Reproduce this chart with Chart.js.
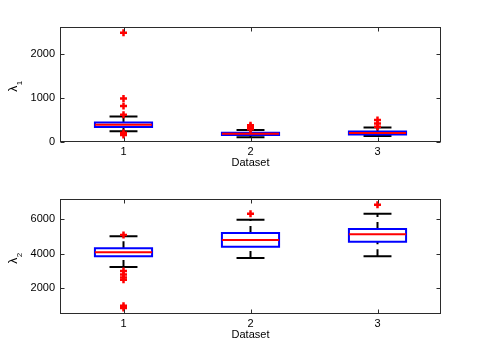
<!DOCTYPE html>
<html>
<head>
<meta charset="utf-8">
<script src="https://cdn.jsdelivr.net/npm/chart.js@4.4.1/dist/chart.umd.min.js"></script>
<style>
  html, body { margin: 0; padding: 0; background: #fff; }
  #wrap { position: relative; width: 485px; height: 364px; }
  canvas { position: absolute; left: 0; }
</style>
</head>
<body>
<div id="wrap">
  <canvas id="topChart" width="485" height="182" style="top:0"></canvas>
  <canvas id="bottomChart" width="485" height="182" style="top:182px"></canvas>
</div>
<script>
const datasetIds = [1, 2, 3];

// lambda_1 boxes
const l1Low  = [244, 107, 137];
const l1Q1   = [342, 160, 172];
const l1Med  = [395, 187, 205];
const l1Q3   = [442, 210, 240];
const l1High = [579, 274, 328];
const l1Out  = [[2490, 990, 820, 620, 210, 160], [290, 320, 350, 380], [350, 420, 500]];
const l1Ticks = [0, 1000, 2000];

// lambda_2 boxes
const l2Low  = [3235, 3752, 3844];
const l2Q1   = [3845, 4403, 4692];
const l2Med  = [4075, 4790, 5112];
const l2Q3   = [4305, 5193, 5424];
const l2High = [5000, 5960, 6305];
const l2Out  = [[5080, 3000, 2800, 2620, 2500, 1000, 870], [6305], [6824]];
const l2Ticks = [2000, 4000, 6000];

const BOX_HALF = 0.225;
const CAP_HALF = 0.11;
const FONT = '"Liberation Sans", Arial, "DejaVu Sans", sans-serif';

function gap(x) { return {x: x, y: null}; }

function buildDatasets(low, q1, med, q3, high, out) {
  const box = [], medLine = [], caps = [], whisk = [], pts = [];
  datasetIds.forEach((x, i) => {
    const l = x - BOX_HALF, r = x + BOX_HALF;
    box.push({x: l, y: q1[i]}, {x: r, y: q1[i]}, {x: r, y: q3[i]}, {x: l, y: q3[i]}, {x: l, y: q1[i]}, gap(x));
    medLine.push({x: l, y: med[i]}, {x: r, y: med[i]}, gap(x));
    caps.push({x: x - CAP_HALF, y: low[i]}, {x: x + CAP_HALF, y: low[i]}, gap(x));
    caps.push({x: x - CAP_HALF, y: high[i]}, {x: x + CAP_HALF, y: high[i]}, gap(x));
    // both whiskers drawn bottom to top (dash starts there)
    whisk.push({x: x, y: low[i]}, {x: x, y: q1[i]}, gap(x));
    whisk.push({x: x, y: q3[i]}, {x: x, y: high[i]}, gap(x));
    out[i].forEach(v => pts.push({x: x, y: v}));
  });
  const line = (data, color, extra) => Object.assign({
    type: 'line', data: data, borderColor: color, borderWidth: 2,
    pointRadius: 0, fill: false, tension: 0, spanGaps: false
  }, extra || {});
  return [
    {type: 'scatter', data: pts, pointStyle: 'cross', pointRadius: 3.5,
     borderColor: '#ff0000', backgroundColor: '#ff0000', pointBorderWidth: 2.5},
    line(medLine, '#ff0000'),
    line(box, '#0000ff', {borderJoinStyle: 'miter', borderCapStyle: 'square'}),
    line(caps, '#000000'),
    line(whisk, '#000000', {borderDash: [7, 5]})
  ];
}

// axes box with inward ticks, like the original
const frame = {
  id: 'frame',
  afterDatasetsDraw(chart) {
    const {ctx, chartArea: a, scales: {x, y}} = chart;
    const L = Math.round(a.left) + 0.5, R = Math.round(a.right) - 0.5;
    const T = Math.round(a.top) + 0.5, B = Math.round(a.bottom) - 0.5;
    ctx.save();
    ctx.strokeStyle = '#2b2b2b';
    ctx.lineWidth = 1;
    ctx.beginPath();
    x.ticks.forEach(t => {
      const px = Math.round(x.getPixelForValue(t.value)) + 0.5;
      ctx.moveTo(px, B); ctx.lineTo(px, B - 4);
      ctx.moveTo(px, T); ctx.lineTo(px, T + 4);
    });
    y.ticks.forEach(t => {
      const py = Math.round(y.getPixelForValue(t.value)) + 0.5;
      ctx.moveTo(L, py); ctx.lineTo(L + 4, py);
      ctx.moveTo(R, py); ctx.lineTo(R - 4, py);
    });
    ctx.stroke();
    ctx.strokeRect(L, T, R - L, B - T);
    ctx.restore();
  }
};

// y title with a real subscript (lambda_n)
const yLabel = {
  id: 'yLabel',
  afterDraw(chart, args, opts) {
    const {ctx, chartArea: a} = chart;
    const cy = (a.top + a.bottom) / 2 + 2;
    ctx.save();
    ctx.fillStyle = '#000';
    ctx.textBaseline = 'alphabetic';
    ctx.textAlign = 'left';
    ctx.font = '12px ' + FONT;
    const w1 = ctx.measureText(opts.main).width;
    ctx.font = '8px ' + FONT;
    const w2 = ctx.measureText(opts.sub).width;
    ctx.translate(17, cy);
    ctx.rotate(-Math.PI / 2);
    const start = -(w1 + w2) / 2;
    ctx.font = '12px ' + FONT;
    ctx.fillText(opts.main, start, 0);
    ctx.font = '8px ' + FONT;
    ctx.fillText(opts.sub, start + w1 + 0.5, 5);
    ctx.restore();
  }
};

function makeChart(id, datasets, yMin, yMax, yTicks, sub, padTop, padBottom) {
  return new Chart(document.getElementById(id), {
    data: {datasets: datasets},
    options: {
      responsive: false,
      animation: false,
      layout: {padding: {left: 0, right: 44, top: padTop, bottom: padBottom}},
      plugins: {
        legend: {display: false},
        tooltip: {enabled: false},
        yLabel: {main: 'λ', sub: sub}
      },
      scales: {
        x: {
          type: 'linear', min: 0.5, max: 3.5,
          afterBuildTicks: s => { s.ticks = datasetIds.map(v => ({value: v})); },
          afterFit: s => { s.height = 40; },
          grid: {display: false, drawTicks: false},
          border: {display: false},
          ticks: {padding: 3, color: '#000', font: {family: FONT, size: 11}, callback: v => String(v), maxRotation: 0},
          title: {display: true, text: 'Dataset', color: '#000', font: {family: FONT, size: 11}, padding: {top: 0, bottom: 12.4}}
        },
        y: {
          type: 'linear', min: yMin, max: yMax,
          afterBuildTicks: s => { s.ticks = yTicks.map(v => ({value: v})); },
          afterFit: s => { s.width = 60; },
          grid: {display: false, drawTicks: false},
          border: {display: false},
          ticks: {padding: 5, color: '#000', font: {family: FONT, size: 11}, callback: v => String(v)}
        }
      }
    },
    plugins: [frame, yLabel]
  });
}

makeChart('topChart', buildDatasets(l1Low, l1Q1, l1Med, l1Q3, l1High, l1Out),
  0, 2620, l1Ticks, '1', 27, 0);
makeChart('bottomChart', buildDatasets(l2Low, l2Q1, l2Med, l2Q3, l2High, l2Out),
  520, 7150, l2Ticks, '2', 17, 10);
</script>
</body>
</html>
